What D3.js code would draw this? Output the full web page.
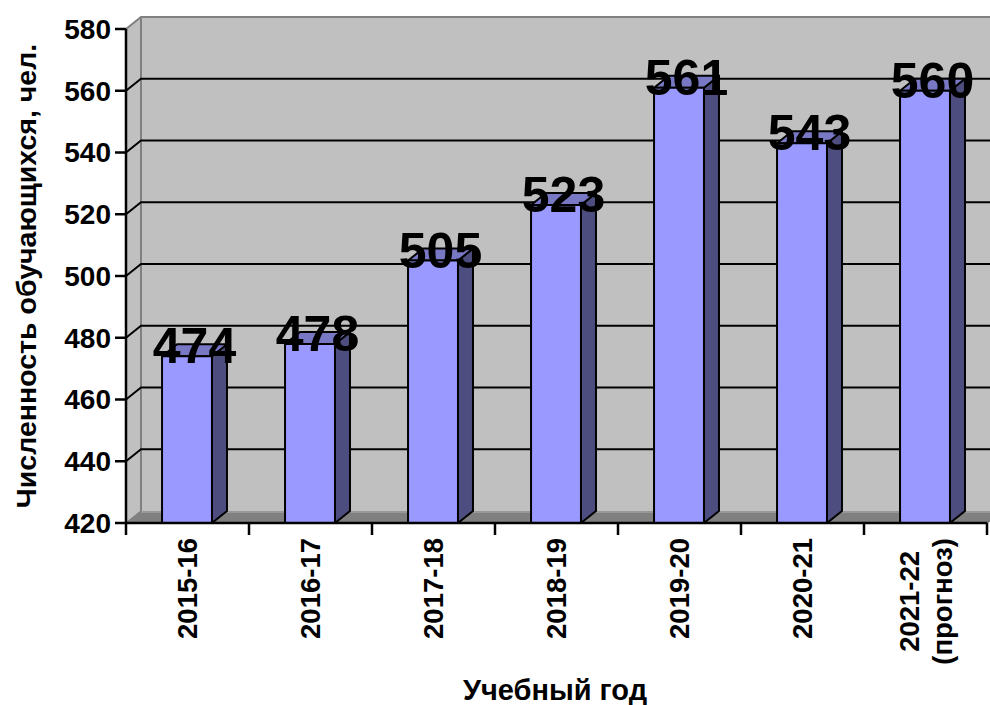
<!DOCTYPE html>
<html><head><meta charset="utf-8">
<script src="https://cdn.jsdelivr.net/npm/d3@7"></script>
<style>body{margin:0;background:#fff}svg{display:block}</style>
</head><body>
<script>
const categories = ["2015-16","2016-17","2017-18","2018-19","2019-20","2020-21","2021-22\n(прогноз)"];
const values = [474,478,505,523,561,543,560];
const yTicks = [420,440,460,480,500,520,540,560,580];
const yTitle = "Численность обучающихся, чел.";
const xTitle = "Учебный год";

const W=990,H=705;
const FONT="'Liberation Sans', Arial, sans-serif";
const DX=15, DY=-12;
const svg=d3.select("body").append("svg").attr("width",W).attr("height",H);

const x=d3.scaleBand().domain(categories).range([126,987]).padding(0);
const y=d3.scaleLinear().domain([420,580]).range([523,29]);
const x0=x.range()[0], x1=x.range()[1], y0=y(420), yTop=y(580);

// back wall
svg.append("rect").attr("x",x0+DX).attr("y",yTop+DY).attr("width",W).attr("height",y0-yTop).attr("fill","#c0c0c0");
// left wall
svg.append("path").attr("d",`M${x0},${y0}L${x0},${yTop}L${x0+DX},${yTop+DY}L${x0+DX},${y0+DY}Z`).attr("fill","#c0c0c0");
// floor
svg.append("path").attr("d",`M${x0},${y0}L${x0+DX},${y0+DY}L${x1+DX},${y0+DY}L${x1},${y0}Z`).attr("fill","#808080");
svg.append("line").attr("x1",x0+DX).attr("x2",x1+DX).attr("y1",y0+DY+1).attr("y2",y0+DY+1).attr("stroke","#a0a0a0").attr("stroke-width",1.5);
// wall edges
svg.append("path").attr("d",`M${x0},${yTop}L${x0+DX},${yTop+DY}L${W},${yTop+DY}`).attr("fill","none").attr("stroke","#808080").attr("stroke-width",2);
svg.append("line").attr("x1",x0+DX).attr("x2",x0+DX).attr("y1",yTop+DY).attr("y2",y0+DY).attr("stroke","#808080").attr("stroke-width",2);
svg.append("line").attr("x1",x0).attr("x2",x0+DX).attr("y1",y0).attr("y2",y0+DY).attr("stroke","#808080").attr("stroke-width",1.5);
svg.append("line").attr("x1",x1).attr("x2",x1+DX).attr("y1",y0).attr("y2",y0+DY).attr("stroke","#666").attr("stroke-width",1.5);

// gridlines
yTicks.filter(t=>t>420&&t<580).forEach(t=>{
  svg.append("path").attr("d",`M${x0},${y(t)}L${x0+DX},${y(t)+DY}L${W},${y(t)+DY}`)
    .attr("fill","none").attr("stroke","#000").attr("stroke-width",2);
});

// bars
const bw=x.bandwidth();
const g=svg.append("g");
categories.forEach((c,i)=>{
  const bx=x(c)+bw*0.293, w=bw*0.406, top=y(values[i]);
  const gg=g.append("g").attr("stroke","#000").attr("stroke-width",2).attr("stroke-linejoin","round");
  gg.append("path").attr("d",`M${bx+w},${y0}L${bx+w},${top}L${bx+w+DX},${top+DY}L${bx+w+DX},${y0+DY}Z`).attr("fill","#4d4d80");
  gg.append("path").attr("d",`M${bx},${top}L${bx+DX},${top+DY}L${bx+w+DX},${top+DY}L${bx+w},${top}Z`).attr("fill","#7878c4");
  gg.append("rect").attr("x",bx).attr("y",top).attr("width",w).attr("height",y0-top).attr("fill","#9999ff");
});

// y axis
svg.append("line").attr("x1",x0).attr("x2",x0).attr("y1",yTop).attr("y2",y0).attr("stroke","#000").attr("stroke-width",2.5);
const ya=svg.append("g").attr("font-family",FONT).attr("font-weight","bold").attr("font-size",28);
yTicks.forEach(t=>{
  ya.append("line").attr("x1",x0-11).attr("x2",x0).attr("y1",y(t)).attr("y2",y(t)).attr("stroke","#000").attr("stroke-width",2.5);
  ya.append("text").attr("x",x0-15).attr("y",y(t)).attr("dy","0.35em").attr("text-anchor","end").text(t);
});
// x axis
svg.append("line").attr("x1",x0).attr("x2",x1).attr("y1",y0).attr("y2",y0).attr("stroke","#000").attr("stroke-width",2.5);
const xa=svg.append("g").attr("font-family",FONT).attr("font-weight","bold").attr("font-size",27.5);
categories.concat([null]).forEach((c,i)=>{
  const tx = c===null ? x1 : x(c);
  xa.append("line").attr("x1",tx).attr("x2",tx).attr("y1",y0).attr("y2",y0+12).attr("stroke","#000").attr("stroke-width",2.5);
});
categories.forEach(c=>{
  const lines=c.split("\n");
  const cx=x(c)+bw/2;
  const t=xa.append("text").attr("transform",`translate(${cx},538) rotate(-90)`);
  const lh=33;
  lines.forEach((l,j)=>{
    t.append("tspan").attr("x",0).attr("y",(j-(lines.length-1)/2)*lh).attr("dy","0.35em").text(l);
  });
  const lens=[]; t.selectAll("tspan").each(function(){lens.push(this.getComputedTextLength());});
  const maxL=d3.max(lens);
  t.attr("text-anchor","middle").selectAll("tspan").attr("x",-maxL/2);
});

// value labels
const lab=svg.append("g").attr("font-family",FONT).attr("font-weight","bold").attr("font-size",50).attr("text-anchor","middle");
categories.forEach((c,i)=>{
  const cx=x(c)+bw*0.293+bw*0.406/2+DX/2;
  lab.append("text").attr("x",cx).attr("y",y(values[i])+7).text(values[i]);
});

// titles
svg.append("text").attr("font-family",FONT).attr("font-weight","bold").attr("font-size",28.5)
  .attr("text-anchor","middle").attr("transform",`translate(36,${(yTop+y0)/2}) rotate(-90)`).text(yTitle);
svg.append("text").attr("font-family",FONT).attr("font-weight","bold").attr("font-size",29)
  .attr("text-anchor","middle").attr("x",555).attr("y",700).text(xTitle);
</script>
</body></html>
